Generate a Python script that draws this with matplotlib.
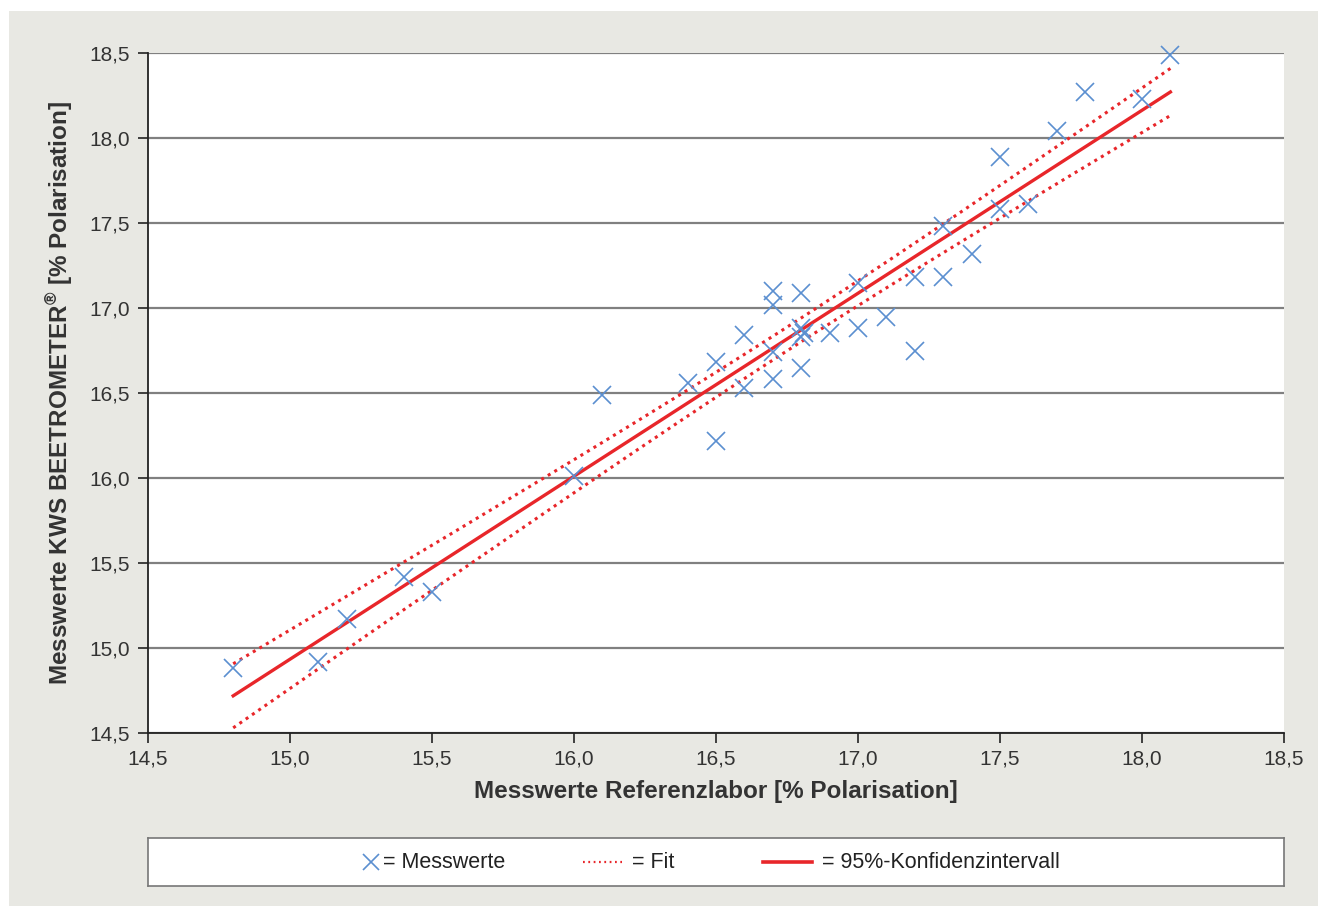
import numpy as np
import matplotlib
matplotlib.use("Agg")
import matplotlib.pyplot as plt
import matplotlib.transforms as mtransforms
from matplotlib.lines import Line2D

plt.rcParams['font.family'] = ['Liberation Sans', 'DejaVu Sans']
plt.rcParams['mathtext.fontset'] = 'custom'
plt.rcParams['mathtext.rm'] = 'Liberation Sans:bold'
plt.rcParams['mathtext.bf'] = 'Liberation Sans:bold'

# Data: reference lab (x) vs KWS BEETROMETER (y), % Polarisation
ref_lab = [14.8, 15.1, 15.2, 15.4, 15.5, 16.0, 16.1, 16.4, 16.5, 16.5,
           16.6, 16.6, 16.7, 16.7, 16.7, 16.7, 16.8, 16.8, 16.8, 16.81,
           16.8, 16.9, 17.0, 17.0, 17.1, 17.2, 17.2, 17.3, 17.3, 17.4,
           17.5, 17.5, 17.6, 17.7, 17.8, 18.0, 18.1]
beetrometer = [14.88, 14.92, 15.17, 15.42, 15.33, 16.01, 16.49, 16.56, 16.68, 16.22,
               16.84, 16.53, 17.10, 17.02, 16.74, 16.58, 17.09, 16.88, 16.83, 16.85,
               16.65, 16.85, 17.15, 16.88, 16.95, 17.18, 16.75, 17.48, 17.18, 17.32,
               17.89, 17.58, 17.61, 18.04, 18.27, 18.23, 18.49]

x_ticks = [14.5, 15.0, 15.5, 16.0, 16.5, 17.0, 17.5, 18.0, 18.5]
y_ticks = [14.5, 15.0, 15.5, 16.0, 16.5, 17.0, 17.5, 18.0, 18.5]

xlabel = "Messwerte Referenzlabor [% Polarisation]"
ylabel = "Messwerte KWS BEETROMETER$^{\u00ae}$ [% Polarisation]"
legend_labels = ["= Messwerte", "= Fit", "= 95%-Konfidenzintervall"]

blue = "#5b8fd0"
red = "#e8262a"

W, H = 1320, 908
fig = plt.figure(figsize=(W / 100, H / 100), dpi=100)
fig.patch.set_facecolor("white")

bg = fig.add_axes([9 / W, 1 - 906 / H, (1318 - 9) / W, (906 - 11) / H], zorder=-10)
bg.set_facecolor("#e8e8e3")
bg.set_xticks([])
bg.set_yticks([])
for sp in bg.spines.values():
    sp.set_visible(False)

ax = fig.add_axes([148 / W, 1 - 733 / H, (1284 - 148) / W, (733 - 53) / H])
ax.set_facecolor("white")
ax.set_xlim(14.5, 18.5)
ax.set_ylim(14.5, 18.5)

# regression and 95% confidence band from the data
xa = np.array(ref_lab)
ya = np.array(beetrometer)
n = len(xa)
b, a = np.polyfit(xa, ya, 1)
res = ya - (a + b * xa)
s = np.sqrt(np.sum(res ** 2) / (n - 2))
xbar = xa.mean()
sxx = np.sum((xa - xbar) ** 2)
t = 2.03
xs = np.linspace(xa.min(), xa.max(), 200)
yfit = a + b * xs
hw = t * s * np.sqrt(1 / n + (xs - xbar) ** 2 / sxx)

dots = (0, (1.0, 1.5))
ax.plot(xs, yfit + hw, color=red, lw=2.2, ls=dots, dash_capstyle="butt", zorder=3)
ax.plot(xs, yfit - hw, color=red, lw=2.2, ls=dots, dash_capstyle="butt", zorder=3)
ax.plot([xa.min(), xa.max()], [a + b * xa.min(), a + b * xa.max()], color=red, lw=2.4, zorder=4)
ax.plot(xa, ya, ls="none", marker="x", ms=13, mew=1.2, color=blue, zorder=5, clip_on=False)

ax.set_xticks(x_ticks)
ax.set_yticks(y_ticks)
fmt = lambda v: f"{v:.1f}".replace(".", ",")
ax.set_xticklabels([fmt(v) for v in x_ticks])
ax.set_yticklabels([fmt(v) for v in y_ticks])
ax.tick_params(axis="both", labelsize=15, length=7, width=1.2, color="#222222",
               labelcolor="#333333", pad=6)
ax.tick_params(axis="x", pad=5)
ax.grid(axis="y", color="#808080", lw=1.6, zorder=1)
ax.set_axisbelow(True)
for side in ["top", "right"]:
    ax.spines[side].set_visible(False)
for side in ["left", "bottom"]:
    ax.spines[side].set_color("#222222")
    ax.spines[side].set_linewidth(1.3)

ax.set_xlabel(xlabel, fontsize=17.5, fontweight="bold", color="#333333", labelpad=8)
ax.set_ylabel(ylabel, fontsize=17.5, fontweight="bold", color="#333333", labelpad=10)

# legend box
lax = fig.add_axes([148 / W, 1 - 886 / H, (1284 - 148) / W, (886 - 838) / H])
lax.set_xticks([])
lax.set_yticks([])
lax.set_facecolor("white")
for sp in lax.spines.values():
    sp.set_color("#777777")
    sp.set_linewidth(1.2)

tr = mtransforms.blended_transform_factory(fig.transFigure, lax.transAxes)
lfs = 15.5
lax.add_line(Line2D([371 / W], [0.5], marker="x", ms=12, mew=1.2, color=blue, transform=tr))
lax.text(383 / W, 0.5, legend_labels[0], transform=tr, fontsize=lfs, va="center", ha="left", color="#222222")
lax.add_line(Line2D([583 / W, 622 / W], [0.5, 0.5], color=red, lw=1.6, ls=(0, (0.8, 1.6)), transform=tr))
lax.text(632 / W, 0.5, legend_labels[1], transform=tr, fontsize=lfs, va="center", ha="left", color="#222222")
lax.add_line(Line2D([763 / W, 812 / W], [0.5, 0.5], color=red, lw=2.6, transform=tr))
lax.text(822 / W, 0.5, legend_labels[2], transform=tr, fontsize=lfs, va="center", ha="left", color="#222222")

fig.savefig("out.png", dpi=100, facecolor=fig.get_facecolor())
